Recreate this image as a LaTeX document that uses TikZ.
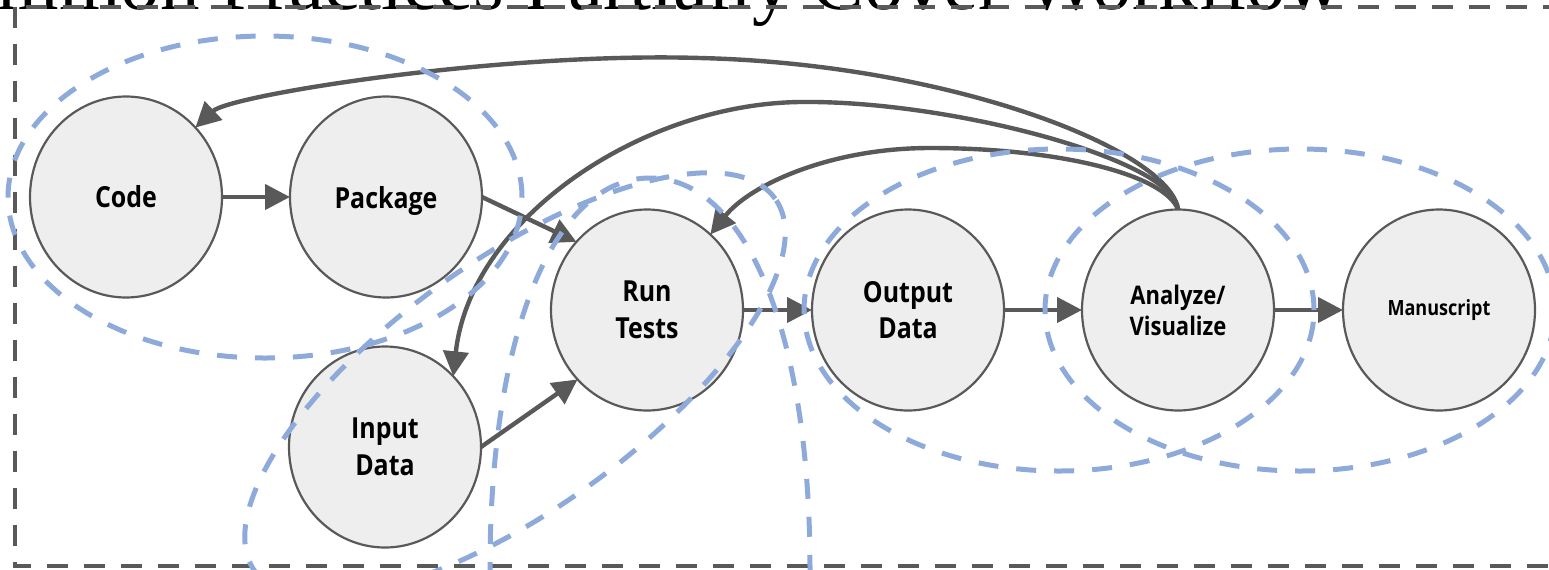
\documentclass[tikz,border=0pt]{standalone}
\usepackage{fontspec}
\usetikzlibrary{arrows.meta,shapes.geometric}
\newfontfamily\nodefont[FakeStretch=0.86]{Open Sans}
\newfontfamily\titlefont{Liberation Serif}
\definecolor{linegray}{HTML}{595959}
\definecolor{nodefill}{HTML}{EEEEEE}
\definecolor{groupblue}{HTML}{8EAADB}
% label whose descenders do not move it off centre
\newcommand\flatlabel[1]{\raisebox{0pt}[\height][0pt]{#1}}

\begin{document}
\begin{tikzpicture}[x=0.5pt,y=-0.5pt,
  stage/.style={ellipse, draw=linegray, fill=nodefill, line width=1.1pt,
    minimum width=96pt, minimum height=100.5pt, inner sep=0pt, outer sep=0pt,
    align=center, font=\nodefont\bfseries\fontsize{14.5}{18.3}\selectfont},
  flow/.style={draw=linegray, line width=2.2pt,
    -{Triangle[length=12.5pt,width=12.5pt]}},
  group/.style={draw=groupblue, line width=2.5pt, dash pattern=on 10pt off 9pt},
  frame/.style={draw=linegray, line width=2pt, dash pattern=on 10.5pt off 8pt}]

\useasboundingbox (0,0) rectangle (1549,569);
\clip (0,0) rectangle (1549,569);

% heading, mostly above the visible area
\node[anchor=base west, inner sep=0pt, text=black,
  font=\titlefont\fontsize{39.5}{44}\selectfont] (title) at (-95,9)
  {Common Practices Partially Cover Workflow};

% outer dashed frame
\draw[frame] (14.5,6.5) rectangle (1580,566);

% workflow stages
\node[stage] (code) at (126,197) {Code};
\node[stage] (pkg)  at (386,197) {\flatlabel{Package}};
\node[stage] (inp)  at (385,447) {Input\\Data};
\node[stage] (run)  at (647,310) {Run\\Tests};
\node[stage] (out)  at (908,310) {Output\\Data};
\node[stage, font=\nodefont\bfseries\fontsize{12.8}{15.5}\selectfont] (ana) at (1178,310) {Analyze/\\Visualize};
\node[stage, font=\nodefont\bfseries\fontsize{10.5}{13}\selectfont] (man) at (1439,310) {Manuscript};

% forward flow
\draw[flow] (code) -- (pkg);
\draw[flow] (pkg.east) -- (run.136);
\draw[flow] (inp.east) -- (run.225);
\draw[flow] (run) -- (out);
\draw[flow] (out) -- (ana);
\draw[flow] (ana) -- (man);

% feedback loops from analysis
\draw[flow] (ana.north) .. controls (1170,150) and (950,64) .. (700,58)
  .. controls (500,52) and (230,95) .. (code.45);
\draw[flow] (ana.north) .. controls (1175,160) and (950,100) .. (800,102)
  .. controls (640,104) and (470,220) .. (inp.46);
\draw[flow] (ana.north) .. controls (1165,175) and (1060,148) .. (930,148)
  .. controls (830,148) and (750,185) .. (run.50);

% coverage groups
\draw[group] (265,197) ellipse [x radius=128.5pt, y radius=80.5pt];
\draw[group, rotate around={35.6:(515,385)}] (515,385) ellipse [x radius=160pt, y radius=62.5pt];
\draw[group] (490,620) -- (490,569) .. controls (490,330) and (555,178) .. (650,178)
  .. controls (745,178) and (810,330) .. (810,569) -- (810,620);
\draw[group] (1059,310) ellipse [x radius=127.5pt, y radius=80.5pt];
\draw[group] (1300,310) ellipse [x radius=127.5pt, y radius=80.5pt];
\end{tikzpicture}
\end{document}
